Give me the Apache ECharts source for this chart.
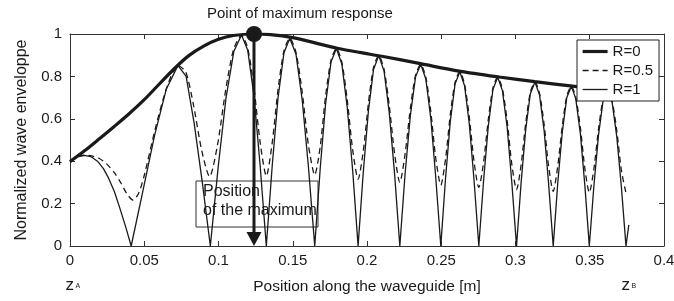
<!DOCTYPE html>
<html>
<head>
<meta charset="utf-8">
<script src="https://cdn.jsdelivr.net/npm/echarts@6/dist/echarts.min.js"></script>
<style>
  html, body { margin: 0; padding: 0; background: #fff; }
  #main { width: 674px; height: 301px; }
</style>
</head>
<body>
<div id="main"></div>
<script>
// enveloppe sans reflexion (R=0)
var envR0 = [
  [0, 0.398], [0.01, 0.45], [0.02, 0.507], [0.03, 0.565], [0.04, 0.625], [0.05, 0.69],
  [0.06, 0.763], [0.07, 0.835], [0.08, 0.898], [0.09, 0.943], [0.1, 0.975], [0.11, 0.993],
  [0.1239, 1.0], [0.135, 0.997], [0.15, 0.983], [0.165, 0.958], [0.18, 0.933], [0.195, 0.913],
  [0.21, 0.895], [0.236, 0.86], [0.262, 0.825], [0.289, 0.797], [0.313, 0.775], [0.337, 0.755],
  [0.362, 0.735], [0.376, 0.725]
];

// R=0.5 (pointille)
var envR05 = [
  [0, 0.398], [0.005, 0.42], [0.0095, 0.428], [0.0145, 0.425], [0.0195, 0.414], [0.025, 0.385],
  [0.03, 0.345], [0.0345, 0.295], [0.038, 0.25], [0.0423, 0.217], [0.046, 0.245], [0.0499, 0.33],
  [0.0575, 0.555], [0.0651, 0.746], [0.0727, 0.852],
  [0.078, 0.82], [0.0833, 0.66], [0.0887, 0.45], [0.094, 0.327],
  [0.0994, 0.479], [0.1048, 0.734], [0.1101, 0.926], [0.1155, 0.995], [0.1197, 0.932], [0.1239, 0.745], [0.128, 0.491], [0.1322, 0.33],
  [0.1362, 0.489], [0.1401, 0.738], [0.1441, 0.921], [0.148, 0.98], [0.1522, 0.912], [0.1564, 0.724], [0.1606, 0.474], [0.1648, 0.335],
  [0.1685, 0.469], [0.1721, 0.706], [0.1758, 0.877], [0.1794, 0.932], [0.1831, 0.866], [0.1867, 0.688], [0.1904, 0.451], [0.194, 0.315],
  [0.1975, 0.448], [0.201, 0.676], [0.2044, 0.842], [0.2079, 0.898], [0.2115, 0.833], [0.215, 0.662], [0.2186, 0.434], [0.2221, 0.30],
  [0.2256, 0.431], [0.2292, 0.649], [0.2327, 0.806], [0.2362, 0.857], [0.2396, 0.796], [0.243, 0.632], [0.2463, 0.414], [0.2497, 0.287],
  [0.2529, 0.411], [0.2561, 0.62], [0.2593, 0.772], [0.2625, 0.822], [0.2657, 0.763], [0.2689, 0.606], [0.2721, 0.397], [0.2753, 0.276],
  [0.2785, 0.395], [0.2817, 0.597], [0.2848, 0.745], [0.288, 0.796], [0.2912, 0.74], [0.2944, 0.589], [0.2975, 0.386], [0.3007, 0.266],
  [0.3038, 0.384], [0.3069, 0.581], [0.31, 0.725], [0.3131, 0.774], [0.3162, 0.719], [0.3193, 0.572], [0.3223, 0.376], [0.3254, 0.258],
  [0.3284, 0.374], [0.3315, 0.565], [0.3345, 0.706], [0.3376, 0.754], [0.3406, 0.701], [0.3437, 0.557], [0.3467, 0.366], [0.3497, 0.252],
  [0.3528, 0.364], [0.3559, 0.551], [0.3589, 0.688], [0.362, 0.735], [0.3651, 0.683], [0.3682, 0.544], [0.3713, 0.357], [0.3744, 0.25]
];

// R=1 (trait fin)
var envR1 = [
  [0, 0.398], [0.005, 0.42], [0.0095, 0.427], [0.014, 0.422], [0.0185, 0.40], [0.0225, 0.365],
  [0.026, 0.32], [0.03, 0.255], [0.0335, 0.18], [0.0375, 0.09], [0.0412, 0],
  [0.0491, 0.26], [0.057, 0.523], [0.0648, 0.739], [0.0727, 0.852], [0.0782, 0.80], [0.0836, 0.58], [0.0891, 0.30], [0.0945, 0],
  [0.0998, 0.373], [0.105, 0.696], [0.1103, 0.917], [0.1155, 0.995], [0.1197, 0.923], [0.1239, 0.707], [0.128, 0.383], [0.1322, 0],
  [0.1362, 0.381], [0.1401, 0.70], [0.1441, 0.912], [0.148, 0.98], [0.1522, 0.904], [0.1564, 0.687], [0.1606, 0.37], [0.1648, 0],
  [0.1685, 0.366], [0.1721, 0.67], [0.1758, 0.869], [0.1794, 0.932], [0.1831, 0.857], [0.1867, 0.653], [0.1904, 0.352], [0.194, 0],
  [0.1975, 0.349], [0.201, 0.641], [0.2044, 0.833], [0.2079, 0.898], [0.2115, 0.825], [0.215, 0.628], [0.2186, 0.338], [0.2221, 0],
  [0.2256, 0.336], [0.2292, 0.616], [0.2327, 0.798], [0.2362, 0.857], [0.2396, 0.788], [0.243, 0.60], [0.2463, 0.323], [0.2497, 0],
  [0.2529, 0.321], [0.2561, 0.588], [0.2593, 0.764], [0.2625, 0.822], [0.2657, 0.756], [0.2689, 0.575], [0.2721, 0.309], [0.2753, 0],
  [0.2785, 0.308], [0.2817, 0.567], [0.2848, 0.738], [0.288, 0.796], [0.2912, 0.733], [0.2944, 0.559], [0.2975, 0.301], [0.3007, 0],
  [0.3038, 0.30], [0.3069, 0.551], [0.31, 0.718], [0.3131, 0.774], [0.3162, 0.712], [0.3193, 0.543], [0.3223, 0.293], [0.3254, 0],
  [0.3284, 0.292], [0.3315, 0.537], [0.3345, 0.699], [0.3376, 0.754], [0.3406, 0.694], [0.3437, 0.529], [0.3467, 0.286], [0.3497, 0],
  [0.3528, 0.284], [0.3559, 0.523], [0.3589, 0.681], [0.362, 0.735], [0.3651, 0.676], [0.3682, 0.516], [0.3713, 0.279], [0.3744, 0], [0.3763, 0.1]
];

// point du maximum et fleche
var maxPoint = [0.1239, 1.0];
var arrowTip = [0.1239, 0.033];

// extremites du guide
var guideEnds = [['A', 0], ['B', 0.3744]];

var legendNames = ['R=0', 'R=0.5', 'R=1'];
var legendWidths = [3.2, 1.3, 1.3];

var ink = '#1a1a1a';
var font = '"Liberation Sans", Arial, sans-serif';

var chart = echarts.init(document.getElementById('main'));

function frame(pos, opts) {
  var ax = {
    type: 'value',
    position: pos,
    axisLine: { show: true, onZero: false, lineStyle: { color: '#333', width: 1 } },
    axisTick: { show: true, inside: true, length: 5, lineStyle: { color: '#333', width: 1 } },
    axisLabel: { show: false },
    splitLine: { show: false }
  };
  for (var k in opts) ax[k] = opts[k];
  return ax;
}

var xBase = { min: 0, max: 0.4, interval: 0.05 };
var yBase = { min: 0, max: 1, interval: 0.2 };

chart.setOption({
  animation: false,
  textStyle: { fontFamily: font },
  title: {
    text: 'Point of maximum response',
    left: 207, top: 6, padding: 0,
    textStyle: { fontSize: 15, fontWeight: 'normal', color: ink, fontFamily: font }
  },
  grid: { left: 70, right: 10, top: 34, bottom: 55, outerBoundsMode: 'none' },
  legend: {
    data: legendNames.map(function (n, i) {
      return { name: n, lineStyle: { width: legendWidths[i] } };
    }),
    orient: 'vertical',
    left: 577, top: 40,
    z: 20,
    padding: [4, 6, 4, 4],
    itemGap: 4,
    itemWidth: 25,
    itemHeight: 14,
    selectedMode: false,
    backgroundColor: '#fff',
    borderColor: '#222',
    borderWidth: 1,
    borderRadius: 0,
    itemStyle: { color: 'rgba(0,0,0,0)', borderColor: 'rgba(0,0,0,0)', borderWidth: 0, opacity: 0 },
    textStyle: { fontSize: 15, color: ink, fontFamily: font }
  },
  xAxis: [
    frame('bottom', Object.assign({
      name: 'Position along the waveguide [m]',
      nameLocation: 'middle',
      nameGap: 33,
      nameTextStyle: { fontSize: 15.5, color: ink, fontFamily: font },
      axisLabel: { show: true, fontSize: 15, color: ink, margin: 7, fontFamily: font }
    }, xBase)),
    frame('top', xBase)
  ],
  yAxis: [
    frame('left', Object.assign({
      name: 'Normalized wave enveloppe',
      nameLocation: 'middle',
      nameGap: 40,
      nameTextStyle: { fontSize: 16, color: ink, fontFamily: font },
      axisLabel: { show: true, fontSize: 15, color: ink, margin: 8, fontFamily: font }
    }, yBase)),
    frame('right', yBase)
  ],
  series: [
    {
      name: 'R=0.5', type: 'line', data: envR05, symbol: 'none', smooth: 0.25, clip: false,
      lineStyle: { color: ink, width: 1.3, type: [6, 4] }, itemStyle: { color: ink }, z: 2
    },
    {
      name: 'R=1', type: 'line', data: envR1, symbol: 'none', clip: false,
      lineStyle: { color: ink, width: 1.3 }, itemStyle: { color: ink }, z: 2
    },
    {
      name: 'R=0', type: 'line', data: envR0, symbol: 'none', smooth: 0.3, clip: false,
      lineStyle: { color: ink, width: 3.2 }, itemStyle: { color: ink }, z: 3
    },
    {
      name: 'maxLine', type: 'line', data: [maxPoint, arrowTip], symbol: 'none', clip: false,
      lineStyle: { color: ink, width: 3 }, z: 5, silent: true
    },
    {
      name: 'maxDot', type: 'scatter', data: [maxPoint], symbol: 'circle', symbolSize: 16, clip: false,
      itemStyle: { color: ink, opacity: 1 }, z: 6, silent: true
    },
    {
      name: 'arrow', type: 'scatter', data: [arrowTip], symbol: 'triangle', symbolRotate: 180,
      symbolSize: [15, 14], clip: false, itemStyle: { color: ink, opacity: 1 }, z: 6, silent: true
    }
  ]
});

// annotations
var gfx = [
  {
    type: 'group', z: 100,
    children: [
      { type: 'rect', shape: { x: 196, y: 181, width: 122, height: 46 },
        style: { fill: '#fff', stroke: '#333', lineWidth: 1 } },
      { type: 'text', x: 203, y: 184,
        style: { text: 'Position', fill: ink, fontSize: 16, fontFamily: font, verticalAlign: 'top' } },
      { type: 'text', x: 203, y: 203,
        style: { text: 'of the maximum', fill: ink, fontSize: 16, fontFamily: font, verticalAlign: 'top' } }
    ]
  }
];
guideEnds.forEach(function (g) {
  var px = chart.convertToPixel({ gridIndex: 0 }, [g[1], 0]);
  gfx.push({ type: 'text', z: 100, x: px[0] - 4.5, y: 285,
    style: { text: 'z', fill: ink, fontSize: 17, fontFamily: font, verticalAlign: 'middle' } });
  gfx.push({ type: 'text', z: 100, x: px[0] + 5.5, y: 286.5,
    style: { text: g[0], fill: ink, fontSize: 7, fontFamily: font, verticalAlign: 'middle' } });
});
chart.setOption({ graphic: gfx });
</script>
</body>
</html>
